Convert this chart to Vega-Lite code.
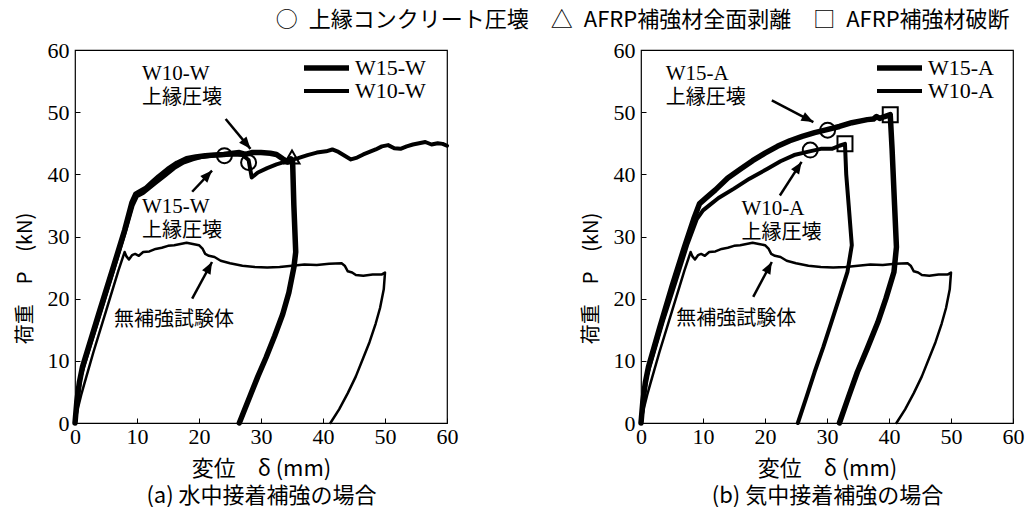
{
  "$schema": "https://vega.github.io/schema/vega-lite/v6.json",
  "padding": {"left": 14, "top": 9, "right": 0, "bottom": 0},
  "background": "white",
  "title": {"text": "○\u2002上縁コンクリート圧壊　△\u2002AFRP補強材全面剥離　□\u2002AFRP補強材破断", "anchor": "end", "font": "Noto Sans CJK JP", "fontSize": 22, "fontWeight": "normal", "color": "black", "offset": 6, "dx": -15},
  "config": {
    "view": {"stroke": "black", "strokeWidth": 1.2},
    "style": {"guide-label": {"font": "Liberation Serif", "fontSize": 22, "fill": "black"}, "guide-title": {"font": "Noto Sans CJK JP", "fontSize": 22, "fontWeight": "normal", "fill": "black"}},
    "axis": {"domain": false, "grid": false, "tickColor": "black", "tickSize": -5, "tickWidth": 1, "labelFont": "Liberation Serif", "labelFontSize": 22, "labelColor": "black", "labelOverlap": false, "labelFlush": false, "titleFont": "Noto Sans CJK JP", "titleFontSize": 22, "titleFontWeight": "normal", "titleColor": "black"}
  },
  "datasets": {
    "curvesA": [
      {"series":"W15-W","delta":0,"P":0},{"series":"W15-W","delta":0.3,"P":3.5},{"series":"W15-W","delta":0.7,"P":6.5},{"series":"W15-W","delta":1.2,"P":9},{"series":"W15-W","delta":3.9,"P":17.8},{"series":"W15-W","delta":6,"P":24.5},{"series":"W15-W","delta":8,"P":31},{"series":"W15-W","delta":9.2,"P":35.5},{"series":"W15-W","delta":9.8,"P":36.8},{"series":"W15-W","delta":10.5,"P":37.2},{"series":"W15-W","delta":11.5,"P":37.8},{"series":"W15-W","delta":12.5,"P":38.7},{"series":"W15-W","delta":13.5,"P":39.6},{"series":"W15-W","delta":15,"P":40.8},{"series":"W15-W","delta":16.5,"P":41.8},{"series":"W15-W","delta":18,"P":42.5},{"series":"W15-W","delta":19.5,"P":42.8},{"series":"W15-W","delta":21,"P":43},{"series":"W15-W","delta":22.5,"P":43.1},{"series":"W15-W","delta":24,"P":43.2},{"series":"W15-W","delta":25.5,"P":43.4},{"series":"W15-W","delta":26.5,"P":43.5},{"series":"W15-W","delta":27.5,"P":43.2},{"series":"W15-W","delta":28.5,"P":43.5},{"series":"W15-W","delta":30,"P":43.5},{"series":"W15-W","delta":31.5,"P":43.4},{"series":"W15-W","delta":32.5,"P":43.2},{"series":"W15-W","delta":33.5,"P":42.5},{"series":"W15-W","delta":34.3,"P":42},{"series":"W15-W","delta":34.8,"P":42.5},{"series":"W15-W","delta":35.1,"P":42},{"series":"W15-W","delta":35.3,"P":35},{"series":"W15-W","delta":35.6,"P":27.5},{"series":"W15-W","delta":35.3,"P":25},{"series":"W15-W","delta":34.5,"P":21},{"series":"W15-W","delta":33.5,"P":17.5},{"series":"W15-W","delta":32.2,"P":14},{"series":"W15-W","delta":30.8,"P":10.5},{"series":"W15-W","delta":29.5,"P":7.5},{"series":"W15-W","delta":28.3,"P":4.5},{"series":"W15-W","delta":27.3,"P":2},{"series":"W15-W","delta":26.5,"P":0},
      {"series":"W10-W","delta":0,"P":0},{"series":"W10-W","delta":0.4,"P":4},{"series":"W10-W","delta":0.9,"P":7.5},{"series":"W10-W","delta":1.5,"P":9.5},{"series":"W10-W","delta":4,"P":17.5},{"series":"W10-W","delta":6,"P":24},{"series":"W10-W","delta":8,"P":30.5},{"series":"W10-W","delta":9.3,"P":35},{"series":"W10-W","delta":10,"P":36.5},{"series":"W10-W","delta":11,"P":37},{"series":"W10-W","delta":12,"P":37.8},{"series":"W10-W","delta":13,"P":38.6},{"series":"W10-W","delta":14.5,"P":39.8},{"series":"W10-W","delta":16,"P":41},{"series":"W10-W","delta":17.5,"P":41.9},{"series":"W10-W","delta":19,"P":42.4},{"series":"W10-W","delta":20.5,"P":42.8},{"series":"W10-W","delta":22,"P":43},{"series":"W10-W","delta":24,"P":43.1},{"series":"W10-W","delta":25.5,"P":43.2},{"series":"W10-W","delta":27,"P":43.1},{"series":"W10-W","delta":28,"P":42.3},{"series":"W10-W","delta":28.5,"P":39.5},{"series":"W10-W","delta":29.5,"P":40.3},{"series":"W10-W","delta":31,"P":41},{"series":"W10-W","delta":32.5,"P":41.6},{"series":"W10-W","delta":33.8,"P":42},{"series":"W10-W","delta":34.5,"P":42.2},{"series":"W10-W","delta":36,"P":42.6},{"series":"W10-W","delta":37.5,"P":43.1},{"series":"W10-W","delta":39,"P":43.5},{"series":"W10-W","delta":40.5,"P":43.7},{"series":"W10-W","delta":41.5,"P":44},{"series":"W10-W","delta":42.5,"P":43.6},{"series":"W10-W","delta":43.5,"P":43},{"series":"W10-W","delta":44.5,"P":42.4},{"series":"W10-W","delta":45.5,"P":42.7},{"series":"W10-W","delta":46.5,"P":43.2},{"series":"W10-W","delta":47.5,"P":43.6},{"series":"W10-W","delta":48.5,"P":44},{"series":"W10-W","delta":49.5,"P":44.5},{"series":"W10-W","delta":50.5,"P":44.7},{"series":"W10-W","delta":51.5,"P":44.2},{"series":"W10-W","delta":52.5,"P":44.1},{"series":"W10-W","delta":53.5,"P":44.5},{"series":"W10-W","delta":54.5,"P":44.8},{"series":"W10-W","delta":55.5,"P":45},{"series":"W10-W","delta":56.5,"P":45.2},{"series":"W10-W","delta":57.5,"P":44.8},{"series":"W10-W","delta":58.5,"P":45},{"series":"W10-W","delta":59.3,"P":44.9},{"series":"W10-W","delta":60,"P":44.6},
      {"series":"無補強","delta":0,"P":0},{"series":"無補強","delta":0.5,"P":2.5},{"series":"無補強","delta":1,"P":4.5},{"series":"無補強","delta":1.5,"P":6.3},{"series":"無補強","delta":3,"P":11.5},{"series":"無補強","delta":5,"P":18},{"series":"無補強","delta":7,"P":24.5},{"series":"無補強","delta":8,"P":27.5},{"series":"無補強","delta":8.3,"P":26.8},{"series":"無補強","delta":8.7,"P":26.3},{"series":"無補強","delta":9.2,"P":27},{"series":"無補強","delta":9.7,"P":27.2},{"series":"無補強","delta":10.3,"P":26.9},{"series":"無補強","delta":11,"P":27.5},{"series":"無補強","delta":12,"P":27.6},{"series":"無補強","delta":13,"P":28},{"series":"無補強","delta":14,"P":28.2},{"series":"無補強","delta":15,"P":28.5},{"series":"無補強","delta":16,"P":28.6},{"series":"無補強","delta":17,"P":28.8},{"series":"無補強","delta":18,"P":29},{"series":"無補強","delta":19,"P":28.8},{"series":"無補強","delta":20,"P":28.6},{"series":"無補強","delta":20.6,"P":28},{"series":"無補強","delta":21,"P":27.2},{"series":"無補強","delta":21.6,"P":26.9},{"series":"無補強","delta":22.5,"P":26.7},{"series":"無補強","delta":23.5,"P":26.1},{"series":"無補強","delta":25,"P":25.7},{"series":"無補強","delta":27,"P":25.3},{"series":"無補強","delta":29,"P":25.1},{"series":"無補強","delta":31,"P":25},{"series":"無補強","delta":33,"P":25.1},{"series":"無補強","delta":35,"P":25.3},{"series":"無補強","delta":37,"P":25.5},{"series":"無補強","delta":39,"P":25.4},{"series":"無補強","delta":41,"P":25.6},{"series":"無補強","delta":43,"P":25.7},{"series":"無補強","delta":43.5,"P":25.3},{"series":"無補強","delta":44,"P":24.4},{"series":"無補強","delta":44.7,"P":24.2},{"series":"無補強","delta":45.3,"P":23.8},{"series":"無補強","delta":46.5,"P":23.7},{"series":"無補強","delta":48,"P":23.9},{"series":"無補強","delta":49.5,"P":23.9},{"series":"無補強","delta":50,"P":24.2},{"series":"無補強","delta":49.8,"P":21.5},{"series":"無補強","delta":49.2,"P":18.5},{"series":"無補強","delta":48.5,"P":16},{"series":"無補強","delta":47.5,"P":13},{"series":"無補強","delta":46.5,"P":10.5},{"series":"無補強","delta":45.3,"P":7.5},{"series":"無補強","delta":44,"P":4.8},{"series":"無補強","delta":42.6,"P":2.2},{"series":"無補強","delta":41.2,"P":0}
    ],
    "curvesB": [
      {"series":"W15-A","delta":0,"P":0},{"series":"W15-A","delta":0.3,"P":3.5},{"series":"W15-A","delta":0.7,"P":6.5},{"series":"W15-A","delta":1.2,"P":9},{"series":"W15-A","delta":3,"P":15.3},{"series":"W15-A","delta":5,"P":22},{"series":"W15-A","delta":7,"P":28.3},{"series":"W15-A","delta":8.5,"P":32.8},{"series":"W15-A","delta":9.45,"P":35.3},{"series":"W15-A","delta":10.5,"P":36.2},{"series":"W15-A","delta":12,"P":37.5},{"series":"W15-A","delta":14,"P":39.4},{"series":"W15-A","delta":16,"P":40.8},{"series":"W15-A","delta":18,"P":42.2},{"series":"W15-A","delta":20,"P":43.4},{"series":"W15-A","delta":22,"P":44.5},{"series":"W15-A","delta":24,"P":45.4},{"series":"W15-A","delta":26,"P":46.1},{"series":"W15-A","delta":28,"P":46.7},{"series":"W15-A","delta":30,"P":47.2},{"series":"W15-A","delta":32,"P":47.7},{"series":"W15-A","delta":34,"P":48.3},{"series":"W15-A","delta":35.5,"P":48.6},{"series":"W15-A","delta":36.5,"P":48.8},{"series":"W15-A","delta":37.5,"P":48.9},{"series":"W15-A","delta":38,"P":49.3},{"series":"W15-A","delta":38.5,"P":49},{"series":"W15-A","delta":39.3,"P":49.3},{"series":"W15-A","delta":40.2,"P":49.6},{"series":"W15-A","delta":40.5,"P":44},{"series":"W15-A","delta":40.9,"P":35},{"series":"W15-A","delta":41.2,"P":28.3},{"series":"W15-A","delta":40.8,"P":24.3},{"series":"W15-A","delta":39.5,"P":20},{"series":"W15-A","delta":38.2,"P":16.2},{"series":"W15-A","delta":36.5,"P":12},{"series":"W15-A","delta":34.9,"P":8.2},{"series":"W15-A","delta":33.4,"P":4},{"series":"W15-A","delta":32,"P":0},
      {"series":"W10-A","delta":0,"P":0},{"series":"W10-A","delta":0.4,"P":4},{"series":"W10-A","delta":0.9,"P":7.5},{"series":"W10-A","delta":1.5,"P":9.5},{"series":"W10-A","delta":3.5,"P":16.3},{"series":"W10-A","delta":5.5,"P":22.5},{"series":"W10-A","delta":7.5,"P":28.8},{"series":"W10-A","delta":9,"P":32.8},{"series":"W10-A","delta":10,"P":34.2},{"series":"W10-A","delta":11,"P":35},{"series":"W10-A","delta":12.5,"P":36.2},{"series":"W10-A","delta":15,"P":37.7},{"series":"W10-A","delta":17.5,"P":39.3},{"series":"W10-A","delta":20.4,"P":40.9},{"series":"W10-A","delta":22.5,"P":42.1},{"series":"W10-A","delta":24.7,"P":43.1},{"series":"W10-A","delta":27.2,"P":43.7},{"series":"W10-A","delta":29,"P":44.1},{"series":"W10-A","delta":30.8,"P":44.1},{"series":"W10-A","delta":32,"P":44.6},{"series":"W10-A","delta":32.9,"P":44.9},{"series":"W10-A","delta":33.1,"P":40},{"series":"W10-A","delta":33.5,"P":35},{"series":"W10-A","delta":34,"P":28.6},{"series":"W10-A","delta":33.3,"P":24.3},{"series":"W10-A","delta":32,"P":20.2},{"series":"W10-A","delta":30.7,"P":16.2},{"series":"W10-A","delta":29.4,"P":12.2},{"series":"W10-A","delta":28,"P":8.2},{"series":"W10-A","delta":26.7,"P":4.2},{"series":"W10-A","delta":25.3,"P":0},
      {"series":"無補強","delta":0,"P":0},{"series":"無補強","delta":0.5,"P":2.5},{"series":"無補強","delta":1,"P":4.5},{"series":"無補強","delta":1.5,"P":6.3},{"series":"無補強","delta":3,"P":11.5},{"series":"無補強","delta":5,"P":18},{"series":"無補強","delta":7,"P":24.5},{"series":"無補強","delta":8,"P":27.5},{"series":"無補強","delta":8.3,"P":26.8},{"series":"無補強","delta":8.7,"P":26.3},{"series":"無補強","delta":9.2,"P":27},{"series":"無補強","delta":9.7,"P":27.2},{"series":"無補強","delta":10.3,"P":26.9},{"series":"無補強","delta":11,"P":27.5},{"series":"無補強","delta":12,"P":27.6},{"series":"無補強","delta":13,"P":28},{"series":"無補強","delta":14,"P":28.2},{"series":"無補強","delta":15,"P":28.5},{"series":"無補強","delta":16,"P":28.6},{"series":"無補強","delta":17,"P":28.8},{"series":"無補強","delta":18,"P":29},{"series":"無補強","delta":19,"P":28.8},{"series":"無補強","delta":20,"P":28.6},{"series":"無補強","delta":20.6,"P":28},{"series":"無補強","delta":21,"P":27.2},{"series":"無補強","delta":21.6,"P":26.9},{"series":"無補強","delta":22.5,"P":26.7},{"series":"無補強","delta":23.5,"P":26.1},{"series":"無補強","delta":25,"P":25.7},{"series":"無補強","delta":27,"P":25.3},{"series":"無補強","delta":29,"P":25.1},{"series":"無補強","delta":31,"P":25},{"series":"無補強","delta":33,"P":25.1},{"series":"無補強","delta":35,"P":25.3},{"series":"無補強","delta":37,"P":25.5},{"series":"無補強","delta":39,"P":25.4},{"series":"無補強","delta":41,"P":25.6},{"series":"無補強","delta":43,"P":25.7},{"series":"無補強","delta":43.5,"P":25.3},{"series":"無補強","delta":44,"P":24.4},{"series":"無補強","delta":44.7,"P":24.2},{"series":"無補強","delta":45.3,"P":23.8},{"series":"無補強","delta":46.5,"P":23.7},{"series":"無補強","delta":48,"P":23.9},{"series":"無補強","delta":49.5,"P":23.9},{"series":"無補強","delta":50,"P":24.2},{"series":"無補強","delta":49.8,"P":21.5},{"series":"無補強","delta":49.2,"P":18.5},{"series":"無補強","delta":48.5,"P":16},{"series":"無補強","delta":47.5,"P":13},{"series":"無補強","delta":46.5,"P":10.5},{"series":"無補強","delta":45.3,"P":7.5},{"series":"無補強","delta":44,"P":4.8},{"series":"無補強","delta":42.6,"P":2.2},{"series":"無補強","delta":41.2,"P":0}
    ],
    "eventsA": [
      {"event":"上縁コンクリート圧壊","delta":24.1,"P":43},
      {"event":"上縁コンクリート圧壊","delta":28,"P":41.9},
      {"event":"AFRP補強材全面剥離","delta":35,"P":42.8}
    ],
    "eventsB": [
      {"event":"上縁コンクリート圧壊","delta":30.1,"P":47.1},
      {"event":"上縁コンクリート圧壊","delta":27.3,"P":43.9},
      {"event":"AFRP補強材破断","delta":40.2,"P":49.6},
      {"event":"AFRP補強材破断","delta":32.9,"P":44.9}
    ],
    "arrowsA": [
      {"x0":24.3,"y0":48.9,"x1":28.3,"y1":44.1},
      {"x0":18.9,"y0":37.2,"x1":22.1,"y1":40.6},
      {"x0":18.9,"y0":20,"x1":22.1,"y1":25.9}
    ],
    "arrowsB": [
      {"x0":21.1,"y0":51.9,"x1":27.8,"y1":48.4},
      {"x0":22.4,"y0":36.6,"x1":25.9,"y1":42.0},
      {"x0":18.1,"y0":20.3,"x1":21.1,"y1":25.9}
    ],
    "notesA": [
      {"note":"W10-W","delta":10.8,"P":56.2},
      {"note":"上縁圧壊","delta":10.8,"P":52.3},
      {"note":"W15-W","delta":10.8,"P":34.8},
      {"note":"上縁圧壊","delta":10.8,"P":30.9},
      {"note":"無補強試験体","delta":6.3,"P":16.6}
    ],
    "notesB": [
      {"note":"W15-A","delta":4.0,"P":56.2},
      {"note":"上縁圧壊","delta":4.0,"P":52.3},
      {"note":"W10-A","delta":16.2,"P":34.4},
      {"note":"上縁圧壊","delta":16.2,"P":30.6},
      {"note":"無補強試験体","delta":5.7,"P":16.7}
    ]
  },
  "spacing": 121,
  "resolve": {"scale": {"strokeWidth": "independent"}, "legend": {"strokeWidth": "independent"}},
  "hconcat": [
    {
      "width": 372, "height": 373,
      "layer": [
        {
          "data": {"name": "curvesA"},
          "mark": {"type": "line", "color": "black", "strokeJoin": "round", "strokeCap": "round"},
          "encoding": {
            "x": {"field": "delta", "type": "quantitative", "scale": {"domain": [0, 60], "nice": false},
                  "axis": {"values": [0,5,10,15,20,25,30,35,40,45,50,55,60], "labelExpr": "datum.value % 10 === 0 ? datum.label : ''", "labelFont": "Liberation Serif", "labelFontSize": 22, "title": ["変位　δ (mm)", "(a) 水中接着補強の場合"], "titlePadding": 11, "titleLineHeight": 27, "labelPadding": 8}},
            "y": {"field": "P", "type": "quantitative", "scale": {"domain": [0, 60], "nice": false},
                  "axis": {"values": [0,5,10,15,20,25,30,35,40,45,50,55,60], "labelExpr": "datum.value % 10 === 0 ? datum.label : ''", "labelFont": "Liberation Serif", "labelFontSize": 22, "title": "荷重　P　(kN)", "titleFontSize": 20, "titleY": 228, "titlePadding": 12, "labelPadding": 11}},
            "strokeWidth": {"field": "series", "type": "nominal", "scale": {"domain": ["W15-W", "W10-W", "無補強"], "range": [5.5, 2.5, 1]},
                  "legend": {"values": ["W15-W", "W10-W"], "title": null, "orient": "none", "legendX": 261, "legendY": 5, "symbolType": "M-4.5,0H0", "symbolSize": 400, "symbolStrokeColor": "black", "labelFont": "Liberation Serif", "labelFontSize": 22, "labelColor": "black", "rowPadding": 0, "labelOffset": -7}},
            "order": {"value": null}
          }
        },
        {
          "data": {"name": "eventsA"},
          "mark": {"type": "point", "filled": false, "color": "black", "strokeWidth": 2, "size": 225, "opacity": 1},
          "encoding": {
            "x": {"field": "delta", "type": "quantitative"},
            "y": {"field": "P", "type": "quantitative"},
            "shape": {"field": "event", "type": "nominal", "scale": {"domain": ["上縁コンクリート圧壊", "AFRP補強材全面剥離", "AFRP補強材破断"], "range": ["circle", "triangle-up", "square"]}, "legend": null}
          }
        },
        {
          "data": {"name": "arrowsA"},
          "mark": {"type": "rule", "color": "black", "strokeWidth": 2.5},
          "encoding": {
            "x": {"field": "x0", "type": "quantitative"}, "y": {"field": "y0", "type": "quantitative"},
            "x2": {"field": "x1"}, "y2": {"field": "y1"}
          }
        },
        {
          "data": {"name": "arrowsA"},
          "transform": [{"calculate": "atan2((datum.x1 - datum.x0) * 6.2, (datum.y1 - datum.y0) * 6.217) * 180 / PI", "as": "ang"}],
          "mark": {"type": "point", "shape": "M0,0L-0.4,1L0.4,1Z", "filled": true, "color": "black", "size": 576, "opacity": 1},
          "encoding": {
            "x": {"field": "x1", "type": "quantitative"}, "y": {"field": "y1", "type": "quantitative"},
            "angle": {"field": "ang", "type": "quantitative", "scale": null}
          }
        },
        {
          "data": {"name": "notesA"},
          "transform": [{"filter": "test(/^W/, datum.note)"}],
          "mark": {"type": "text", "align": "left", "baseline": "middle", "font": "Liberation Serif", "fontSize": 21, "color": "black"},
          "encoding": {"x": {"field": "delta", "type": "quantitative"}, "y": {"field": "P", "type": "quantitative"}, "text": {"field": "note"}}
        },
        {
          "data": {"name": "notesA"},
          "transform": [{"filter": "!test(/^W/, datum.note)"}],
          "mark": {"type": "text", "align": "left", "baseline": "middle", "font": "Noto Sans CJK JP", "fontSize": 20, "color": "black"},
          "encoding": {"x": {"field": "delta", "type": "quantitative"}, "y": {"field": "P", "type": "quantitative"}, "text": {"field": "note"}}
        }
      ]
    },
    {
      "width": 372, "height": 373,
      "layer": [
        {
          "data": {"name": "curvesB"},
          "mark": {"type": "line", "color": "black", "strokeJoin": "round", "strokeCap": "round"},
          "encoding": {
            "x": {"field": "delta", "type": "quantitative", "scale": {"domain": [0, 60], "nice": false},
                  "axis": {"values": [0,5,10,15,20,25,30,35,40,45,50,55,60], "labelExpr": "datum.value % 10 === 0 ? datum.label : ''", "labelFont": "Liberation Serif", "labelFontSize": 22, "title": ["変位　δ (mm)", "(b) 気中接着補強の場合"], "titlePadding": 11, "titleLineHeight": 27, "labelPadding": 8}},
            "y": {"field": "P", "type": "quantitative", "scale": {"domain": [0, 60], "nice": false},
                  "axis": {"values": [0,5,10,15,20,25,30,35,40,45,50,55,60], "labelExpr": "datum.value % 10 === 0 ? datum.label : ''", "labelFont": "Liberation Serif", "labelFontSize": 22, "title": "荷重　P　(kN)", "titleFontSize": 20, "titleY": 228, "titlePadding": 12, "labelPadding": 11}},
            "strokeWidth": {"field": "series", "type": "nominal", "scale": {"domain": ["W15-A", "W10-A", "無補強"], "range": [5.5, 2.5, 1]},
                  "legend": {"values": ["W15-A", "W10-A"], "title": null, "orient": "none", "legendX": 268, "legendY": 5, "symbolType": "M-4.5,0H0", "symbolSize": 400, "symbolStrokeColor": "black", "labelFont": "Liberation Serif", "labelFontSize": 22, "labelColor": "black", "rowPadding": 0, "labelOffset": -7}},
            "order": {"value": null}
          }
        },
        {
          "data": {"name": "eventsB"},
          "mark": {"type": "point", "filled": false, "color": "black", "strokeWidth": 2, "size": 225, "opacity": 1},
          "encoding": {
            "x": {"field": "delta", "type": "quantitative"},
            "y": {"field": "P", "type": "quantitative"},
            "shape": {"field": "event", "type": "nominal", "scale": {"domain": ["上縁コンクリート圧壊", "AFRP補強材全面剥離", "AFRP補強材破断"], "range": ["circle", "triangle-up", "square"]}, "legend": null}
          }
        },
        {
          "data": {"name": "arrowsB"},
          "mark": {"type": "rule", "color": "black", "strokeWidth": 2.5},
          "encoding": {
            "x": {"field": "x0", "type": "quantitative"}, "y": {"field": "y0", "type": "quantitative"},
            "x2": {"field": "x1"}, "y2": {"field": "y1"}
          }
        },
        {
          "data": {"name": "arrowsB"},
          "transform": [{"calculate": "atan2((datum.x1 - datum.x0) * 6.2, (datum.y1 - datum.y0) * 6.217) * 180 / PI", "as": "ang"}],
          "mark": {"type": "point", "shape": "M0,0L-0.4,1L0.4,1Z", "filled": true, "color": "black", "size": 576, "opacity": 1},
          "encoding": {
            "x": {"field": "x1", "type": "quantitative"}, "y": {"field": "y1", "type": "quantitative"},
            "angle": {"field": "ang", "type": "quantitative", "scale": null}
          }
        },
        {
          "data": {"name": "notesB"},
          "transform": [{"filter": "test(/^W/, datum.note)"}],
          "mark": {"type": "text", "align": "left", "baseline": "middle", "font": "Liberation Serif", "fontSize": 21, "color": "black"},
          "encoding": {"x": {"field": "delta", "type": "quantitative"}, "y": {"field": "P", "type": "quantitative"}, "text": {"field": "note"}}
        },
        {
          "data": {"name": "notesB"},
          "transform": [{"filter": "!test(/^W/, datum.note)"}],
          "mark": {"type": "text", "align": "left", "baseline": "middle", "font": "Noto Sans CJK JP", "fontSize": 20, "color": "black"},
          "encoding": {"x": {"field": "delta", "type": "quantitative"}, "y": {"field": "P", "type": "quantitative"}, "text": {"field": "note"}}
        }
      ]
    }
  ]
}
